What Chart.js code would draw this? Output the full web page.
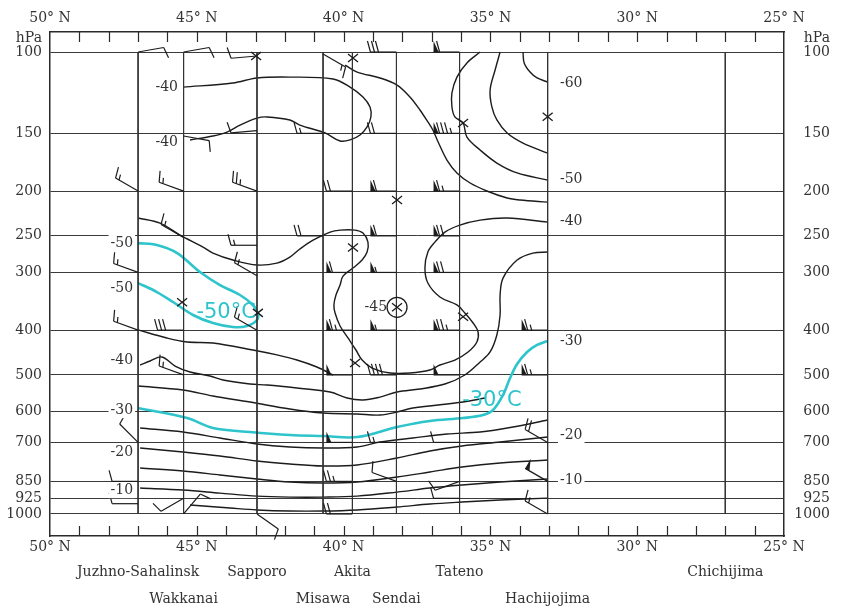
<!DOCTYPE html>
<html>
<head>
<meta charset="utf-8">
<script src="https://cdn.jsdelivr.net/npm/chart.js@4.4.1/dist/chart.umd.min.js"></script>
<style>
  html, body { margin: 0; padding: 0; background: #fff; }
</style>
</head>
<body>
<canvas id="xsec" width="845" height="610"></canvas>
<script>
// pressure levels (hPa) shown on both sides
var levels = [100, 150, 200, 250, 300, 400, 500, 600, 700, 850, 925, 1000];

// stations along the section
var stationNames = ['Juzhno-Sahalinsk', 'Wakkanai', 'Sapporo', 'Misawa', 'Akita', 'Sendai', 'Tateno', 'Hachijojima', 'Chichijima'];
var stationLats = [47.0, 45.45, 42.95, 40.7, 39.7, 38.2, 36.05, 33.05, 27.0];

// isotherms, [latitude, hPa]
var tongue40 = [[45.47,119.1],[43.77,116.7],[42.95,113.8],[41.83,113.3],[40.36,114.4],[39.78,119.1],[39.34,125.1],[39.10,131.5],[39.07,138.2],[39.20,145.3],[39.44,151.2],[39.78,155.0],[40.12,155.8],[40.63,149.7],[41.49,143.9],[41.83,140.3],[42.61,138.2],[42.95,139.0],[43.53,143.9],[43.97,149.0],[44.45,152.0],[45.23,155.0]];
var upper50 = [[39.95,106.7],[39.54,110.5],[38.76,113.8],[38.18,117.9],[37.74,125.1],[37.40,133.5],[37.13,141.7],[36.96,147.5],[36.78,156.6],[36.48,171.3],[36.14,182.7],[35.69,192.1],[35.12,199.9],[34.43,207.0],[33.99,209.1],[33.05,211.3]];
var iso50 = [[35.35,100],[35.80,105.6],[36.14,113.3],[36.31,122.6],[36.31,131.5],[36.21,138.2],[35.93,142.4],[35.80,152.8],[35.35,163.0],[34.78,173.9],[34.09,182.7],[33.05,189.3]];
var iso55 = [[34.67,100],[34.84,109.4],[35.01,120.8],[34.95,131.5],[34.78,140.3],[34.43,149.7],[33.89,157.4],[33.05,165.5]];
var iso60 = [[33.89,100],[33.85,105.6],[33.65,110.5],[33.41,113.8],[33.05,116.1]];
var iso40 = [[47.00,228.7],[46.25,234.7],[45.57,249],[44.79,264.3],[44.45,272.4],[43.77,282],[42.95,289.1],[42.27,286.3],[41.83,277.9],[41.49,266.9],[41.04,255.3],[40.46,245.3],[40.12,242.9],[39.61,242.9],[39.34,246.6],[39.17,257.9],[39.20,271],[39.37,282],[39.68,293.5],[40.02,305.5],[40.12,319.5],[40.26,335.7],[40.33,352.8],[40.29,367.2],[40.12,391.8],[39.85,415.9],[39.58,441.6],[39.37,464.2],[39.03,483.1],[38.42,495.3],[37.74,495.3],[37.06,487.9],[36.72,475.9],[36.21,464.2],[35.76,446],[35.46,424.3],[35.42,403.6],[35.59,386],[35.87,367.2],[36.14,352.8],[36.72,339.1],[37.13,316.3],[37.23,293.5],[37.13,271],[36.89,257.9],[36.55,245.3],[36.04,236.9],[35.35,231.1],[34.43,228.7],[33.05,233.5]];
var iso45 = [[47.00,399.6],[46.02,415.9],[45.33,424.3],[44.45,426.4],[43.09,441.6],[42.27,452.6],[41.59,464.2],[40.91,480.7],[40.36,500.2]];
var iso35 = [[46.93,475.9],[46.59,466.5],[46.19,457.3],[45.74,478.3],[45.23,492.8],[44.55,502.8],[44.11,512.9],[43.19,523.2],[42.61,525.8],[41.59,533.7],[40.46,544.5],[39.88,561.1],[39.34,566.6],[38.76,558.4],[38.18,544.5],[37.40,536.4],[36.55,523.2],[35.87,500.2],[35.35,468.9],[35.01,446],[34.78,409.7],[34.67,370.9],[34.67,335.7],[34.57,308.6],[34.09,282],[33.55,272.4],[33.05,271]];
var iso33 = [[47.00,528.4],[45.47,539.1],[44.45,555.5],[43.19,572.3],[41.83,592.7],[40.70,604.6],[39.54,607.6],[38.76,610.6],[38.18,601.6],[37.64,589.7],[35.93,572.3],[35.18,561.1]];
var iso25 = [[46.93,651.5],[45.47,664.7],[44.21,684.8],[42.95,705.5],[41.83,716.1],[40.70,719.7],[39.54,716.1],[38.76,698.5],[37.64,684.8],[36.48,671.3],[35.35,664.7],[34.23,648.3],[33.05,626]];
var iso20 = [[46.93,719.7],[45.47,734.3],[44.21,749],[42.95,767.8],[41.83,779.4],[40.70,787.3],[39.54,783.3],[38.18,756.5],[37.06,730.7],[35.97,712.6],[34.67,698.5],[33.05,681.4]];
var iso15 = [[46.93,795.1],[45.47,807.2],[44.21,823.3],[42.95,840],[41.83,852.7],[40.70,857],[39.54,852.7],[38.18,831.8],[37.06,811.2],[35.97,791.2],[34.67,775.5],[33.05,764]];
var iso10 = [[46.93,878.8],[45.47,887.5],[44.21,901.2],[42.95,914.7],[41.83,919.2],[40.70,919.2],[39.54,914.7],[38.18,896.6],[37.06,878.8],[35.97,865.7],[34.67,852.7],[33.05,840]];
var iso05 = [[45.23,956],[43.87,970.6],[42.95,980],[41.83,985.3],[40.70,985.3],[39.54,980],[38.18,965.9],[37.06,951.8],[35.97,942.3],[34.67,932.6],[33.05,923.8]];

// highlighted isotherms (-50 and -30 C)
var cyan50 = [[47.00,259.2],[46.36,261.7],[45.67,272.4],[44.89,299.4],[44.21,319.5],[43.53,335.7],[43.09,352.8],[42.92,367.2],[42.95,380.2],[43.29,391.8],[43.77,393.8],[44.45,386],[45.13,370.9],[45.81,347.6],[46.36,330.8],[47.00,316.3]];
var cyan30 = [[47.00,589.7],[45.33,619.8],[44.45,651.5],[43.19,664.7],[41.83,674.6],[40.70,678],[39.54,681.4],[38.18,648.3],[37.06,629.1],[35.93,619.8],[35.25,610.6],[34.91,595.6],[34.57,552.7],[34.33,507.8],[34.09,473.5],[33.75,446],[33.41,430.6],[33.05,422.1]];

// isotherm labels: [text, hPa]
var leftLabels = [['-50', 259], ['-50', 324], ['-40', 464], ['-30', 596], ['-20', 734], ['-10', 888]];
var innerLabels = [['-40', 119], ['-40', 157]];
var rightLabels = [['-60', 116.7], ['-50', 189], ['-40', 232], ['-30', 422], ['-20', 675], ['-10', 844]];
var cyanLabels = [['-50°C', 44.0, 367], ['-30°C', 34.95, 567]];

// tropopause marks [lat, hPa], and the circled one with its value
var tropo = [[39.68,103],[42.98,102],[35.93,142.4],[33.05,138],[38.18,209],[39.68,265],[45.5,348],[42.92,367],[35.93,374],[39.61,471]];
var circled = [38.18, 357, '-45'];

// winds: [lat, hPa, direction deg, speed kt]
var barbs = [
  [47.0,100,80,10],[45.45,100,80,10],[42.95,102,265,10],[40.7,101,120,15],[38.2,100,270,30],[36.05,100,270,60],
  [45.45,152,100,10],[42.95,148,265,10],[40.7,150,270,15],[38.2,150,270,20],[36.05,150,270,85],
  [47.0,200,300,15],[45.45,200,290,15],[42.95,200,290,25],[39.7,200,270,20],[38.2,200,270,60],[36.05,200,270,65],
  [45.45,252,300,15],[42.95,262,270,15],[40.7,250,270,20],[38.2,250,270,60],[36.05,250,270,70],
  [47.0,300,290,15],[42.95,305,300,15],[39.7,300,270,60],[38.2,300,270,55],[36.05,300,270,70],
  [47.0,400,290,15],[45.45,400,270,30],[42.95,400,300,15],[39.7,400,270,65],[38.2,400,270,55],[36.05,400,270,75],[33.05,400,270,65],
  [45.45,500,290,15],[39.7,500,270,50],[38.2,500,270,40],[36.05,500,270,50],[33.05,500,270,65],
  [47.0,700,315,10],[39.7,700,270,50],[38.2,700,270,15],[36.05,700,270,10],[33.05,700,300,20],
  [47.0,850,270,10],[45.45,925,240,10],[39.7,850,270,25],[38.2,850,290,10],[36.05,850,250,10],[33.05,850,300,50],
  [47.0,950,270,10],[45.45,1000,40,10],[42.95,1000,125,10],[39.7,1000,270,20],[36.05,925,270,10],[33.05,1000,300,15]
];

var serif = '"DejaVu Serif", "Liberation Serif", serif';
var ink = '#2a2a2a';
var cyan = '#2ec4cc';

function line(arr, color, width) {
  return {
    data: arr.map(function(d){ return {x: d[0], y: d[1]}; }),
    xAxisID: 'x', yAxisID: 'y',
    borderColor: color, borderWidth: width,
    tension: 0.35, pointRadius: 0, fill: false
  };
}

var datasets = [];
stationLats.forEach(function(lat){
  var ds = line([[lat, levels[0]], [lat, levels[levels.length - 1]]], '#333', 1);
  ds.tension = 0;
  datasets.push(ds);
});
[tongue40, upper50, iso50, iso55, iso60, iso40, iso45, iso35, iso33, iso25, iso20, iso15, iso10, iso05].forEach(function(arr){
  datasets.push(line(arr, '#1c1c1c', 1.4));
});
datasets.push(line(cyan50, cyan, 2.6));
datasets.push(line(cyan30, cyan, 2.6));

function drawBarb(ctx, x, y, dir, kt) {
  var a = dir * Math.PI / 180;
  var dx = Math.sin(a), dy = -Math.cos(a);
  var px = -dy, py = dx;
  var len = 26, fl = 11, pos = len;
  ctx.beginPath();
  ctx.moveTo(x, y);
  ctx.lineTo(x + dx * len, y + dy * len);
  ctx.stroke();
  var n50 = Math.floor(kt / 50);
  var rest = kt - n50 * 50;
  var n10 = Math.floor(rest / 10);
  var n5 = rest - n10 * 10 >= 5 ? 1 : 0;
  for (var i = 0; i < n50; i++) {
    ctx.beginPath();
    ctx.moveTo(x + dx * pos, y + dy * pos);
    ctx.lineTo(x + dx * pos + px * fl, y + dy * pos + py * fl);
    ctx.lineTo(x + dx * (pos - 5), y + dy * (pos - 5));
    ctx.closePath();
    ctx.fill();
    pos -= 6;
  }
  for (i = 0; i < n10; i++) {
    ctx.beginPath();
    ctx.moveTo(x + dx * pos, y + dy * pos);
    ctx.lineTo(x + dx * (pos + 3) + px * fl, y + dy * (pos + 3) + py * fl);
    ctx.stroke();
    pos -= 4;
  }
  if (n5) {
    if (pos === len) pos -= 4;
    ctx.beginPath();
    ctx.moveTo(x + dx * pos, y + dy * pos);
    ctx.lineTo(x + dx * (pos + 1.5) + px * fl / 2, y + dy * (pos + 1.5) + py * fl / 2);
    ctx.stroke();
  }
}

function text(ctx, t, x, y, align, bg) {
  ctx.textAlign = align;
  ctx.textBaseline = 'middle';
  if (bg) {
    var w = ctx.measureText(t).width;
    var left = align === 'right' ? x - w : (align === 'center' ? x - w / 2 : x);
    ctx.fillStyle = '#fff';
    ctx.fillRect(left - 2, y - 8, w + 4, 16);
  }
  ctx.fillStyle = '#333';
  ctx.fillText(t, x, y);
}

var sectionPlugin = {
  id: 'section',
  afterDatasetsDraw: function(chart) {
    var ctx = chart.ctx, xs = chart.scales.x, ys = chart.scales.y, area = chart.chartArea;
    ctx.save();

    // small degree ticks inside top and bottom frame
    ctx.strokeStyle = ink;
    ctx.lineWidth = 1.2;
    for (var lat = 26; lat < 50; lat++) {
      var tx = Math.round(xs.getPixelForValue(lat)) + 0.5;
      ctx.beginPath();
      ctx.moveTo(tx, area.top); ctx.lineTo(tx, area.top + 10);
      ctx.moveTo(tx, area.bottom); ctx.lineTo(tx, area.bottom - 10);
      ctx.stroke();
    }

    // wind barbs
    ctx.fillStyle = '#1c1c1c';
    ctx.strokeStyle = '#1c1c1c';
    ctx.lineWidth = 1.2;
    barbs.forEach(function(b){
      drawBarb(ctx, xs.getPixelForValue(b[0]), ys.getPixelForValue(b[1]), b[2], b[3]);
    });

    // tropopause crosses
    ctx.lineWidth = 1.3;
    tropo.concat([circled]).forEach(function(t){
      var cx = xs.getPixelForValue(t[0]), cy = ys.getPixelForValue(t[1]);
      ctx.beginPath();
      ctx.moveTo(cx - 5, cy - 4); ctx.lineTo(cx + 5, cy + 4);
      ctx.moveTo(cx - 5, cy + 4); ctx.lineTo(cx + 5, cy - 4);
      ctx.stroke();
    });
    var ccx = xs.getPixelForValue(circled[0]), ccy = ys.getPixelForValue(circled[1]);
    ctx.beginPath();
    ctx.arc(ccx, ccy, 10, 0, Math.PI * 2);
    ctx.stroke();

    // isotherm labels
    ctx.font = '14px ' + serif;
    var lx = xs.getPixelForValue(47.17);
    leftLabels.forEach(function(l){ text(ctx, l[0], lx, ys.getPixelForValue(l[1]), 'right', true); });
    var ix = xs.getPixelForValue(45.64);
    innerLabels.forEach(function(l){ text(ctx, l[0], ix, ys.getPixelForValue(l[1]), 'right', true); });
    var rx = xs.getPixelForValue(32.63);
    rightLabels.forEach(function(l){ text(ctx, l[0], rx, ys.getPixelForValue(l[1]), 'left', true); });
    text(ctx, circled[2], ccx - 10, ccy, 'right', false);

    ctx.font = '21px "DejaVu Sans", sans-serif';
    ctx.fillStyle = cyan;
    ctx.textAlign = 'center';
    ctx.textBaseline = 'middle';
    cyanLabels.forEach(function(l){
      ctx.fillText(l[0], xs.getPixelForValue(l[1]), ys.getPixelForValue(l[2]));
    });

    // unit on both sides
    ctx.font = '14px ' + serif;
    var hy = ys.getPixelForValue(levels[0]) - 14;
    text(ctx, 'hPa', chart.scales.y.right - 8, hy, 'right', false);
    text(ctx, 'hPa', chart.scales.yr.right, hy, 'right', false);

    ctx.restore();
  }
};

function latAxis(pos, height, pad) {
  return {
    type: 'linear', position: pos, min: 25, max: 50, reverse: true, weight: 0,
    grid: { display: false, drawTicks: false },
    border: { display: true, color: ink, width: 1.5 },
    ticks: {
      stepSize: 5, padding: pad, color: '#333', autoSkip: false, maxRotation: 0,
      font: { family: serif, size: 14 },
      callback: function(v){ return v + '° N'; }
    },
    afterFit: function(s){ s.height = height; }
  };
}

function levelAxis(pos, width) {
  return {
    type: 'logarithmic', position: pos, min: 90.5, max: 1116, reverse: true,
    afterBuildTicks: function(s){ s.ticks = levels.map(function(v){ return {value: v}; }); },
    grid: { display: pos === 'left', drawTicks: false, color: '#3a3a3a', lineWidth: 1 },
    border: { display: true, color: ink, width: 1.5 },
    ticks: {
      padding: 8, autoSkip: false, color: '#333', crossAlign: pos === 'left' ? 'near' : 'far',
      font: { family: serif, size: 14 },
      callback: function(v){ return String(v); }
    },
    afterFit: function(s){ s.width = width; }
  };
}

var chart = new Chart(document.getElementById('xsec'), {
  type: 'line',
  data: { datasets: datasets },
  options: {
    responsive: false,
    animation: false,
    events: [],
    layout: { padding: { left: 0, right: 15, top: 0, bottom: 0 } },
    plugins: { legend: { display: false }, tooltip: { enabled: false } },
    scales: {
      x: latAxis('top', 32, 5),
      xb: latAxis('bottom', 22, 3),
      xs: {
        type: 'linear', position: 'bottom', min: 25, max: 50, reverse: true, weight: 1,
        afterBuildTicks: function(s){ s.ticks = stationLats.map(function(v){ return {value: v}; }); },
        grid: { display: false, drawTicks: false },
        border: { display: false },
        ticks: {
          padding: 1, autoSkip: false, maxRotation: 0, color: '#333',
          font: { family: serif, size: 14, lineHeight: 1.93 },
          callback: function(v, i){ return i % 2 === 0 ? [stationNames[i], ''] : ['', stationNames[i]]; }
        },
        afterFit: function(s){ s.height = 52; }
      },
      y: levelAxis('left', 50),
      yr: levelAxis('right', 46)
    }
  },
  plugins: [sectionPlugin]
});
</script>
</body>
</html>
